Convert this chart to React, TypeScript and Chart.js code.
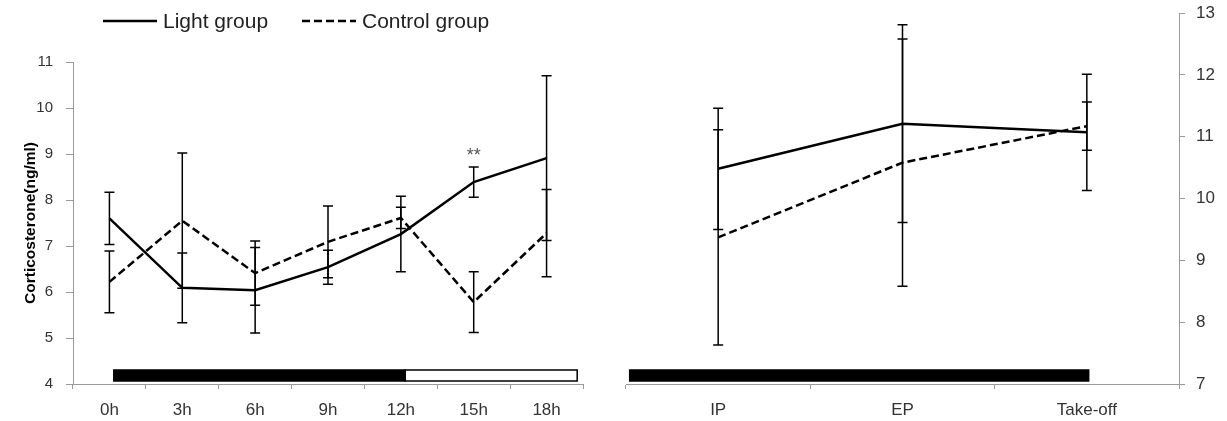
import React, { useEffect, useRef } from 'react';
import { Chart, registerables } from 'chart.js';

Chart.register(...registerables);
Chart.defaults.font.family = '"Liberation Sans", Arial, sans-serif';

// ---- data ----
const hours = ['0h', '3h', '6h', '9h', '12h', '15h', '18h'];
const lightHours = [7.6, 6.09, 6.04, 6.54, 7.26, 8.39, 8.91];
const lightHoursErr = [0.57, 0.76, 0.93, 0.37, 0.82, 0.33, 1.79];
const controlHours = [6.22, 7.55, 6.41, 7.09, 7.61, 5.78, 7.28];
const controlHoursErr = [0.67, 1.47, 0.7, 0.78, 0.23, 0.66, 0.95];

const stages = ['IP', 'EP', 'Take-off'];
const lightStages = [10.48, 11.21, 11.07];
const lightStagesErr = [0.98, 1.6, 0.94];
const controlStages = [9.37, 10.58, 11.17];
const controlStagesErr = [1.74, 2.0, 0.39];

const leftAxisRange = [4, 11];
const rightAxisRange = [7, 13];

// photoperiod bars in category units
const hourPhases = [
  { from: 0.06, to: 4.06, dark: true },
  { from: 4.06, to: 6.42, dark: false },
];
const stagePhases = [{ from: -0.48, to: 2.01, dark: true }];

const significance = [{ dataset: 0, index: 5, text: '**' }];

const seriesNames = ['Light group', 'Control group'];

// ---- plugins ----
const errorBarPlugin = {
  id: 'errorBars',
  afterDatasetsDraw(chart: any) {
    const { ctx } = chart;
    const xs = chart.scales.x;
    const ys = chart.scales.y;
    chart.data.datasets.forEach((ds: any) => {
      const errs = ds.errors;
      if (!errs) return;
      ds.data.forEach((v: number, i: number) => {
        const px = xs.getPixelForValue(i);
        const top = ys.getPixelForValue(v + errs[i]);
        const bot = ys.getPixelForValue(v - errs[i]);
        ctx.save();
        ctx.strokeStyle = '#000';
        ctx.lineWidth = 1.5;
        ctx.setLineDash([]);
        ctx.beginPath();
        ctx.moveTo(px, top);
        ctx.lineTo(px, bot);
        ctx.moveTo(px - 5, top);
        ctx.lineTo(px + 5, top);
        ctx.moveTo(px - 5, bot);
        ctx.lineTo(px + 5, bot);
        ctx.stroke();
        ctx.restore();
      });
    });
  },
};

const phasePlugin = {
  id: 'phaseBars',
  afterDraw(chart: any, _args: any, opts: any) {
    if (!opts || !opts.phases) return;
    const { ctx, chartArea } = chart;
    const xs = chart.scales.x;
    const yTop = chartArea.bottom - 14;
    const h = 11;
    opts.phases.forEach((p: any) => {
      const x0 = xs.getPixelForValue(p.from);
      const x1 = xs.getPixelForValue(p.to);
      ctx.save();
      ctx.fillStyle = p.dark ? '#000' : '#fff';
      ctx.fillRect(x0, yTop, x1 - x0, h);
      ctx.strokeStyle = '#000';
      ctx.lineWidth = 1.5;
      ctx.strokeRect(x0, yTop, x1 - x0, h);
      ctx.restore();
    });
  },
};

const markPlugin = {
  id: 'sigMarks',
  afterDraw(chart: any, _args: any, opts: any) {
    if (!opts || !opts.marks) return;
    const { ctx } = chart;
    const xs = chart.scales.x;
    const ys = chart.scales.y;
    opts.marks.forEach((m: any) => {
      const ds: any = chart.data.datasets[m.dataset];
      const v = ds.data[m.index] + (ds.errors ? ds.errors[m.index] : 0);
      const px = xs.getPixelForValue(m.index);
      const py = ys.getPixelForValue(v) - 6;
      ctx.save();
      ctx.fillStyle = '#555';
      ctx.font = '18px "Liberation Sans", Arial, sans-serif';
      ctx.textAlign = 'center';
      ctx.textBaseline = 'alphabetic';
      ctx.fillText(m.text, px, py);
      ctx.restore();
    });
  },
};

const lineLegendPlugin = {
  id: 'lineLegend',
  afterDraw(chart: any, _args: any, opts: any) {
    if (!opts || !opts.starts) return;
    const { ctx } = chart;
    chart.data.datasets.forEach((ds: any, i: number) => {
      const x = opts.starts[i];
      const y = opts.y;
      ctx.save();
      ctx.strokeStyle = ds.borderColor;
      ctx.lineWidth = ds.borderWidth;
      ctx.setLineDash(ds.borderDash || []);
      ctx.beginPath();
      ctx.moveTo(x, y);
      ctx.lineTo(x + opts.length, y);
      ctx.stroke();
      ctx.setLineDash([]);
      ctx.fillStyle = '#222';
      ctx.font = '21px "Liberation Sans", Arial, sans-serif';
      ctx.textBaseline = 'middle';
      ctx.textAlign = 'left';
      ctx.fillText(ds.label, x + opts.length + opts.gap, y + 1);
      ctx.restore();
    });
  },
};

const axisGrey = '#9a9a9a';
const labelColor = '#333';

function makeDatasets(light: number[], lightErr: number[], control: number[], controlErr: number[]) {
  return [
    {
      label: seriesNames[0],
      data: light,
      errors: lightErr,
      borderColor: '#000',
      borderWidth: 2.5,
      pointRadius: 0,
      tension: 0,
      fill: false,
    },
    {
      label: seriesNames[1],
      data: control,
      errors: controlErr,
      borderColor: '#000',
      borderWidth: 2.5,
      borderDash: [8, 4],
      pointRadius: 0,
      tension: 0,
      fill: false,
    },
  ];
}

export default function App() {
  const leftRef = useRef<HTMLCanvasElement | null>(null);
  const rightRef = useRef<HTMLCanvasElement | null>(null);

  useEffect(() => {
    const left = new Chart(leftRef.current as HTMLCanvasElement, {
      type: 'line',
      data: {
        labels: hours,
        datasets: makeDatasets(lightHours, lightHoursErr, controlHours, controlHoursErr) as any,
      },
      options: {
        responsive: false,
        animation: false,
        layout: { padding: { left: 0, right: 17, top: 62, bottom: 0 } },
        plugins: {
          legend: { display: false },
          tooltip: { enabled: false },
          phaseBars: { phases: hourPhases },
          sigMarks: { marks: significance },
          lineLegend: { starts: [103, 302], length: 54, gap: 6, y: 21 },
        } as any,
        scales: {
          x: {
            type: 'category',
            offset: true,
            grid: { offset: true, drawOnChartArea: false, tickLength: 5, color: axisGrey },
            border: { color: axisGrey },
            ticks: { color: labelColor, font: { size: 17 }, padding: 11, maxRotation: 0 },
            afterFit: (s: any) => { s.height = 37; },
          },
          y: {
            min: leftAxisRange[0],
            max: leftAxisRange[1],
            grid: { drawOnChartArea: false, tickLength: 7, color: axisGrey },
            border: { color: axisGrey },
            ticks: { stepSize: 1, color: labelColor, font: { size: 15 }, padding: 13 },
            title: {
              display: true,
              text: 'Corticosterone(ng/ml)',
              color: '#000',
              font: { size: 15.5, weight: 'bold' },
              padding: { top: 21, bottom: 0 },
            },
            afterFit: (s: any) => { s.width = 73; },
          },
        } as any,
      },
      plugins: [errorBarPlugin, phasePlugin, markPlugin, lineLegendPlugin],
    });

    const right = new Chart(rightRef.current as HTMLCanvasElement, {
      type: 'line',
      data: {
        labels: stages,
        datasets: makeDatasets(lightStages, lightStagesErr, controlStages, controlStagesErr) as any,
      },
      options: {
        responsive: false,
        animation: false,
        layout: { padding: { left: 26, right: 0, top: 13, bottom: 0 } },
        plugins: {
          legend: { display: false },
          tooltip: { enabled: false },
          phaseBars: { phases: stagePhases },
        } as any,
        scales: {
          x: {
            type: 'category',
            offset: true,
            grid: { offset: true, drawOnChartArea: false, tickLength: 5, color: axisGrey },
            border: { color: axisGrey },
            ticks: { color: labelColor, font: { size: 17 }, padding: 11, maxRotation: 0 },
            afterFit: (s: any) => { s.height = 37; },
          },
          y: {
            position: 'right',
            min: rightAxisRange[0],
            max: rightAxisRange[1],
            grid: { drawOnChartArea: false, tickLength: 6, color: axisGrey },
            border: { color: axisGrey },
            ticks: { stepSize: 1, color: labelColor, font: { size: 17 }, padding: 11 },
            afterFit: (s: any) => {
              s.width = 48;
              s.paddingTop = 0;
              s.paddingBottom = 0;
            },
          },
        } as any,
      },
      plugins: [errorBarPlugin, phasePlugin],
    });

    return () => {
      left.destroy();
      right.destroy();
    };
  }, []);

  return (
    <div style={{ position: 'fixed', left: 0, top: 0, width: 1227, height: 421, background: '#fff' }}>
      <canvas ref={leftRef} width={600} height={421} style={{ position: 'absolute', left: 0, top: 0 }} />
      <canvas ref={rightRef} width={627} height={421} style={{ position: 'absolute', left: 600, top: 0 }} />
    </div>
  );
}
